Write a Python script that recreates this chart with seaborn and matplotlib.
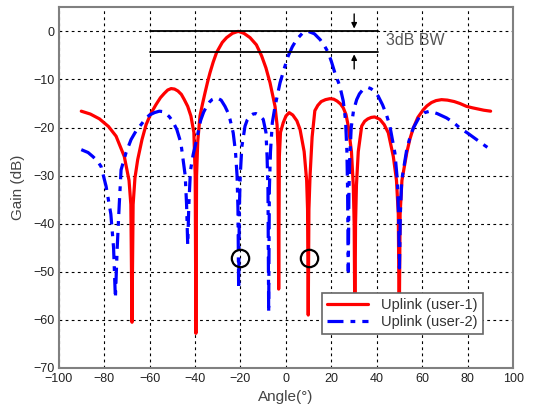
import matplotlib
matplotlib.use("Agg")
import matplotlib.pyplot as plt
import seaborn as sns
import pandas as pd

# ---- data ----
user1_angle = [-90, -86, -82, -78, -74.7, -71.1, -69.0, -68.2, -67.7, -67.2, -66.4, -65.2, -63.3, -61.5,
               -59.3, -57.1, -55.2, -53.5, -52, -50.5, -49, -47.5, -46, -44.7, -43.2, -41.8, -40.5,
               -39.9, -39.6, -39.3, -38.8, -37.8, -36.7, -35.6, -34.5, -33.4, -32, -30.5, -28, -26.1,
               -23.5, -21, -18.5, -15.8, -13, -10.7, -8.8, -7, -4.8, -3.9, -3.5, -3.2, -2.9, -2.4,
               -1.2, 0, 1.4, 3, 4.8, 6.2, 8.0, 9.1, 9.5, 9.8, 10.1, 10.6, 11.5, 12.7, 14, 15.5, 17.4,
               19.3, 21, 22.5, 24, 25.2, 26.4, 27.4, 28.8, 29.6, 30.0, 30.3, 30.6, 31.0, 31.8, 33.3,
               34.6, 36, 37.5, 39, 41.3, 43.2, 45, 47.2, 48.6, 49.4, 49.8, 50.2, 51, 53.1, 54.5, 56,
               58, 60.4, 62, 64, 66, 68.4, 71, 74, 76.5, 79.4, 82, 84, 87, 90]
user1_gain = [-16.6, -17.2, -18.2, -19.8, -21.8, -26.0, -31, -36, -60.5, -36, -30.5, -26.7, -22.5, -19.4,
              -17.0, -15.2, -13.8, -12.9, -12.2, -11.9, -12.0, -12.4, -13.1, -14.2, -15.6, -17.6, -21,
              -30, -62.8, -30, -23, -17.6, -15.1, -12.8, -10.6, -8.6, -6.4, -4.4, -2.3, -1.3,
              -0.4, 0, -0.4, -1.3, -2.8, -5.1, -7.6, -10.7, -15.6, -19.5, -24, -53.6, -26, -21,
              -19.0, -17.6, -16.9, -17.4, -18.6, -20.4, -25, -31, -37, -59, -37, -30, -22, -16.5, -15.4, -14.6, -14.2,
              -14.0, -14.1, -14.5, -15.1, -15.9, -17.3, -19.7, -25, -32, -40, -62, -40, -32, -25, -19.7,
              -18.7, -18.2, -17.9, -17.8, -18.3, -19.4, -21.1, -26, -31, -38, -62, -38, -31, -25.3, -22.4, -20.1,
              -17.9, -16.3, -15.5, -14.8, -14.4, -14.2, -14.3, -14.6, -15.0, -15.6, -15.9, -16.1, -16.4, -16.6]

user2_angle = [-90, -87, -85, -83, -81.3, -79.1, -77, -75.8, -75, -74.2, -73.3, -72.5, -70.3, -68.1,
               -65.9, -63.7, -61.8, -60, -57.8, -55.7, -54, -52.5, -51.2, -49.8, -48, -46.2, -44.3,
               -43.7, -43.2, -42.7, -42, -40.8, -39.6, -37.5, -36.2, -34.9, -33.6, -32.5, -30.5, -28.5,
               -26.8, -25.6, -24.6, -23.2, -22.2, -21.5, -21.1, -20.8, -20.5, -20.1, -19.4, -18,
               -17, -15.8, -14.5, -13.2, -11.6, -10, -8.8, -8.3, -7.9, -7.6, -7.3, -6.8, -6, -4.8,
               -2.6, -0.8, 1, 2.8, 4.7, 7.2, 9.8, 12.5, 15, 16.8, 18.6, 20, 21.5, 23.7, 25.2, 26.2,
               26.8, 27.1, 27.4, 27.7, 28.1, 28.7, 29.7, 31.1, 32.3, 33.5, 34.8, 36.2, 37.3, 38.5,
               40.6, 42.5, 44.3, 45.7, 47.9, 49.0, 49.5, 49.9, 50.3, 50.9, 53.1, 54.5, 56, 58.9,
               61, 63.3, 66.5, 70.6, 73.5, 76.5, 80, 83.8, 87, 90]
user2_gain = [-24.6, -25.2, -26.0, -26.9, -28.1, -32.2, -38, -45, -55.5, -45, -36, -28.8, -25.2, -22.5,
              -20.7, -19.4, -18.2, -17.4, -16.9, -16.6, -16.7, -17.2, -17.8, -18.7, -20.4, -23.2, -30,
              -36, -44.4, -36, -29, -25.6, -23.2, -18.5, -16.8, -15.6, -14.7, -14.2, -13.8, -14.3,
              -15.6, -16.8, -18.3, -21.1, -25, -30, -37, -53.6, -37, -30, -24, -19.7,
              -18.4, -17.6, -17.2, -17.1, -17.5, -18.3, -21, -26, -33, -58.5, -33, -25, -19, -15.6,
              -10.7, -7.8, -5.1, -3.2, -1.7, -0.4, 0, -0.5, -1.7, -2.9, -4.4, -6.3, -8.6, -11.4, -14.5, -18.5,
              -25, -33, -49.9, -33, -26, -20, -16.5, -14.2, -13.0, -12.3, -11.9, -11.7, -11.9, -12.3,
              -13.5, -15.3, -17.5, -19.7, -25.3, -31, -38, -49.2, -38, -31, -24.6, -22.1, -20.1, -17.6,
              -16.9, -16.6, -17.1, -18.0, -18.9, -20.1, -21.2, -22.5, -23.6, -24.6]

series_labels = ["Uplink (user-1)", "Uplink (user-2)"]
x_ticks = [-100, -80, -60, -40, -20, 0, 20, 40, 60, 80, 100]
y_ticks = [-70, -60, -50, -40, -30, -20, -10, 0]

# annotation geometry (3dB beamwidth marker and null markers)
bw_levels = [0, -4.2]
bw_span = [-60, 40.5]
bw_arrow_x = 30
null_angles = [-20.3, 10]
null_gain = [-47.2, -47.2]

sns.set_style("white")
plt.rcParams["font.family"] = ["Liberation Sans", "DejaVu Sans"]

fig = plt.figure(figsize=(5.37, 4.07), dpi=100)
ax = fig.add_axes([0.109, 0.096, 0.847, 0.886])

df1 = pd.DataFrame({"Angle": user1_angle, "Gain": user1_gain})
df2 = pd.DataFrame({"Angle": user2_angle, "Gain": user2_gain})
sns.lineplot(data=df1, x="Angle", y="Gain", ax=ax, color="#ff0000", lw=2.3,
             estimator=None, sort=False, label=series_labels[0])
sns.lineplot(data=df2, x="Angle", y="Gain", ax=ax, color="#0000ff", lw=2.3,
             estimator=None, sort=False, label=series_labels[1], dashes=False)
ax.lines[1].set_linestyle((0, (5, 2.2, 1.5, 2.2)))

# 3dB BW lines and arrows
for lv in bw_levels:
    ax.plot(bw_span, [lv, lv], color="black", lw=1.3, zorder=3)
ax.annotate("", xy=(bw_arrow_x, bw_levels[0]), xytext=(bw_arrow_x, 4.2),
            arrowprops=dict(arrowstyle="-|>", color="black", lw=1, mutation_scale=8))
ax.annotate("", xy=(bw_arrow_x, bw_levels[1]), xytext=(bw_arrow_x, -8.4),
            arrowprops=dict(arrowstyle="-|>", color="black", lw=1, mutation_scale=8))
ax.text(44, -2, "3dB BW", fontsize=11.5, color="#555555", va="center", ha="left")

# circles at nulls
ax.plot(null_angles, null_gain, linestyle="none", marker="o", markersize=12.5,
        markerfacecolor="none", markeredgecolor="black", markeredgewidth=1.6, zorder=4)

ax.set_xlim(-100, 100)
ax.set_ylim(-70, 5)
ax.set_xticks(x_ticks)
ax.set_yticks(y_ticks)
ax.tick_params(direction="in", length=3, labelsize=9, colors="#222222")
ax.tick_params(axis="x", pad=4)
ax.tick_params(axis="y", pad=3)
ax.grid(True, color="black", linestyle=(0, (2.5, 3)), lw=0.8)
for sp in ax.spines.values():
    sp.set_color("#808080")
    sp.set_linewidth(1.5)
ax.set_xlabel("Angle(°)", fontsize=11, color="#444444", labelpad=3)
ax.set_ylabel("Gain (dB)", fontsize=11, color="#444444", labelpad=6)

leg = ax.legend(loc="upper left", bbox_to_anchor=(0.58, 0.207), borderaxespad=0,
                fontsize=10.5, frameon=True, fancybox=False, framealpha=1,
                edgecolor="#666666", handlelength=2.8, handletextpad=0.9,
                borderpad=0.35, labelspacing=0.2)
leg.get_frame().set_linewidth(1.2)
for t in leg.get_texts():
    t.set_color("#333333")

fig.savefig("out.png", dpi=100)
